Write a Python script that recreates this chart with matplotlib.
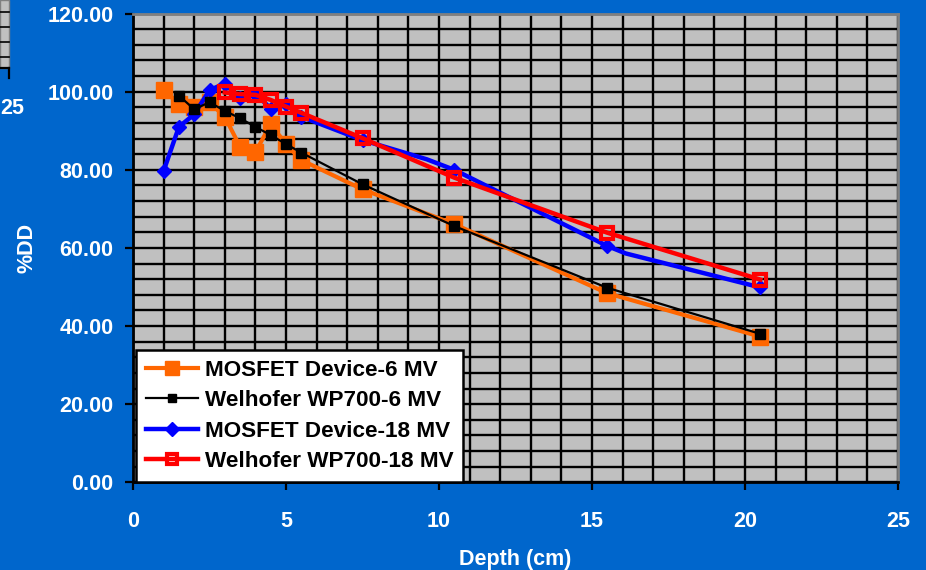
import matplotlib
matplotlib.use("Agg")
import matplotlib.pyplot as plt
from matplotlib.patches import Rectangle
from matplotlib.lines import Line2D

plt.rcParams['font.family'] = ['Liberation Sans', 'DejaVu Sans']

# ---- data ----
depth_mos6 = [1.0, 1.5, 2.0, 2.5, 3.0, 3.5, 4.0, 4.5, 5.0, 5.5, 7.5, 10.5, 15.5, 20.5]
mos6 = [100.5, 96.8, 96.0, 97.3, 93.6, 85.9, 84.5, 91.7, 86.6, 82.5, 75.0, 66.1, 48.4, 37.3]

depth_wel6 = [1.5, 2.0, 2.5, 3.0, 3.5, 4.0, 4.5, 5.0, 5.5, 7.5, 10.5, 15.5, 20.5]
wel6 = [99.0, 95.5, 97.3, 95.1, 93.2, 91.0, 88.9, 86.6, 84.4, 76.3, 65.6, 49.8, 38.0]

depth_mos18 = [1.0, 1.5, 2.0, 2.5, 3.0, 3.5, 4.0, 4.5, 5.0, 5.5, 7.5, 9.6, 10.5, 15.5, 16.1, 20.5]
mos18 = [79.7, 91.0, 94.2, 100.4, 102.1, 98.3, 99.5, 95.7, 96.8, 93.6, 87.6, 82.7, 80.0, 60.5, 58.6, 49.9]
mos18_marked = [0, 1, 2, 3, 4, 5, 6, 7, 8, 9, 10, 12, 13, 15]

depth_wel18 = [3.0, 3.5, 4.0, 4.5, 5.0, 5.5, 7.5, 10.5, 15.5, 20.5]
wel18 = [99.8, 99.4, 99.2, 97.9, 96.2, 94.6, 88.1, 78.0, 63.9, 51.9]

labels = ["MOSFET Device-6 MV", "Welhofer WP700-6 MV", "MOSFET Device-18 MV", "Welhofer WP700-18 MV"]

x_ticks = [0, 5, 10, 15, 20, 25]
y_ticks = [0, 20, 40, 60, 80, 100, 120]

BG = '#0066CC'
PLOT_BG = '#C0C0C0'
ORANGE = '#FF6600'
FS = 15.5

fig = plt.figure(figsize=(9.26, 5.70), dpi=100, facecolor=BG)
ax = fig.add_axes([133/926, 1-482.3/570, 765/926, (482.3-13.6)/570])
ax.set_facecolor(PLOT_BG)

# grid
for gx in range(0, 26):
    ax.axvline(gx, color='black', lw=1.7, zorder=1)
for gy in range(0, 121, 4):
    ax.axhline(gy, color='black', lw=1.7, zorder=1)

ax.plot(depth_mos6, mos6, color=ORANGE, lw=3.0, marker='s', ms=11,
        mfc=ORANGE, mec=ORANGE, zorder=3, label=labels[0])
ax.plot(depth_wel6, wel6, color='black', lw=1.6, marker='s', ms=6.5,
        mfc='black', mec='black', zorder=4, label=labels[1])
ax.plot(depth_mos18, mos18, color='#0000FF', lw=3.2, marker='D', ms=7.5,
        mfc='#0000FF', mec='#0000FF', markevery=mos18_marked, zorder=3, label=labels[2])
ax.plot(depth_wel18, wel18, color='#FF0000', lw=3.2, marker='s', ms=8.5,
        mfc='none', mec='#FF0000', mew=3.0, zorder=4, label=labels[3])

ax.set_xlim(0, 25)
ax.set_ylim(0, 120)
ax.set_xticks(x_ticks)
ax.set_yticks(y_ticks)
ax.set_xticklabels([str(t) for t in x_ticks])
ax.set_yticklabels([f"{t:.2f}" for t in y_ticks])

for lab in ax.get_xticklabels() + ax.get_yticklabels():
    lab.set_color('white')
    lab.set_fontweight('bold')
    lab.set_fontsize(FS)
ax.tick_params(axis='both', direction='out', length=6, width=1.6, color='black')
ax.tick_params(axis='x', pad=15)
ax.tick_params(axis='y', pad=8)

for side in ['left', 'bottom']:
    ax.spines[side].set_color('black')
    ax.spines[side].set_linewidth(2)
for side in ['top', 'right']:
    ax.spines[side].set_color('#808080')
    ax.spines[side].set_linewidth(2)

ax.set_xlabel("Depth (cm)", color='white', fontweight='bold', fontsize=FS, labelpad=12)
ax.set_ylabel("%DD", color='white', fontweight='bold', fontsize=FS, labelpad=7)

leg = ax.legend(loc='lower left', bbox_to_anchor=(0.004, 0.0), borderaxespad=0,
                fancybox=False, frameon=True, facecolor='white', edgecolor='black',
                prop={'weight': 'bold', 'size': 16.2}, handlelength=2.3,
                labelspacing=0.42, borderpad=0.45, handletextpad=0.3, markerscale=0.9)
leg.get_frame().set_linewidth(1.8)
leg.get_frame().set_alpha(1)
leg.set_zorder(10)

# fragment of neighbouring chart at top-left
fig.add_artist(Rectangle((0, 1-68/570), 9/926, 68/570, transform=fig.transFigure,
                         facecolor=PLOT_BG, edgecolor='#808080', lw=1))
for yy in [12, 27, 42, 57]:
    fig.add_artist(Line2D([0, 9/926], [1-yy/570, 1-yy/570], transform=fig.transFigure,
                          color='black', lw=1.2))
fig.add_artist(Line2D([0, 9/926], [1-68/570, 1-68/570], transform=fig.transFigure,
                      color='black', lw=1.6))
fig.add_artist(Line2D([9/926, 9/926], [1-68/570, 1-78/570], transform=fig.transFigure,
                      color='black', lw=1.6))
fig.text(0, 1-108/570, "25", color='white', fontweight='bold', fontsize=FS,
         ha='left', va='center')

fig.savefig("out.png", dpi=100, facecolor=BG)
